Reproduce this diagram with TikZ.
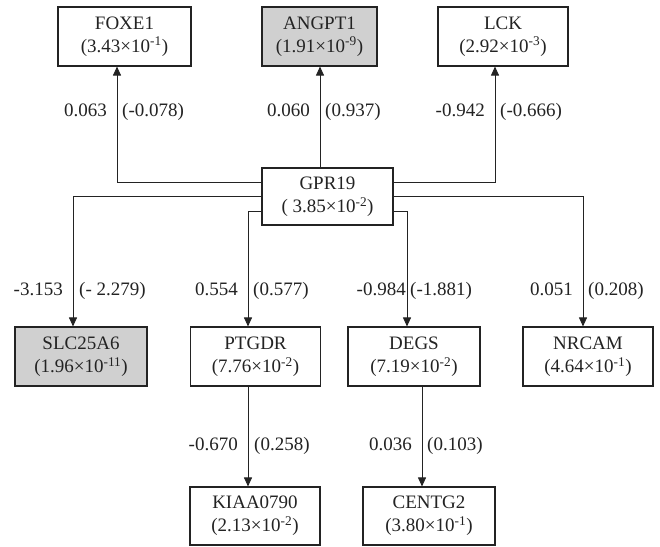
\documentclass[tikz,border=0pt]{standalone}
\usepackage{fontspec}
\setmainfont{Liberation Serif}
\usetikzlibrary{arrows.meta}
\definecolor{boxgray}{RGB}{208,208,208}
\definecolor{ink}{RGB}{35,35,35}
\begin{document}
\begin{tikzpicture}[x=1pt,y=-1pt,
  gene/.style={draw=ink,line width=1.1pt,rectangle,minimum height=59pt,inner sep=0pt,align=center,text=ink,font=\fontsize{19}{23}\selectfont},
  shaded/.style={gene,fill=boxgray},
  conn/.style={draw=ink,line width=0.9pt},
  arr/.style={conn,-{Triangle[length=9pt,width=8pt]}},
  lbl/.style={inner sep=0pt,text=ink,font=\fontsize{19}{23}\selectfont},
  lleft/.style={lbl,anchor=base east},
  lright/.style={lbl,anchor=base west}]
\useasboundingbox (0,0) rectangle (660,546);
\fill[white] (0,0) rectangle (660,546);
% top row
\node[gene,minimum width=133pt] (FOXE1) at (124.5,36.5) {FOXE1\\(3.43×10\textsuperscript{-1})};
\node[shaded,minimum width=115pt] (ANGPT1) at (319.5,36.5) {ANGPT1\\(1.91×10\textsuperscript{-9})};
\node[gene,minimum width=130pt] (LCK) at (503,36.5) {LCK\\(2.92×10\textsuperscript{-3})};
% centre
\node[gene,minimum width=131pt,minimum height=57pt] (GPR19) at (327.5,196.5) {GPR19\\( 3.85×10\textsuperscript{-2})};
% middle row
\node[shaded,minimum width=132pt] (SLC) at (81,356.5) {SLC25A6\\(1.96×10\textsuperscript{-11})};
\node[gene,minimum width=130pt] (PTGDR) at (255.5,356.5) {PTGDR\\(7.76×10\textsuperscript{-2})};
\node[gene,minimum width=132pt] (DEGS) at (414,356.5) {DEGS\\(7.19×10\textsuperscript{-2})};
\node[gene,minimum width=130pt] (NRCAM) at (588,356.5) {NRCAM\\(4.64×10\textsuperscript{-1})};
% bottom row
\node[gene,minimum width=130pt,minimum height=58pt] (KIAA) at (255,516) {KIAA0790\\(2.13×10\textsuperscript{-2})};
\node[gene,minimum width=132pt,minimum height=58pt] (CENTG) at (429,516) {CENTG2\\(3.80×10\textsuperscript{-1})};
% bend coordinates
\coordinate (c1) at (117,182);
\coordinate (c2) at (320,0);
\coordinate (c3) at (495,182);
\coordinate (c4) at (73,196);
\coordinate (c5) at (248,211);
\coordinate (c6) at (407,211);
\coordinate (c7) at (583,196);
\coordinate (c8) at (248,0);
\coordinate (c9) at (422,0);
% connectors
\draw[arr] (GPR19.west |- c1) -- (c1) -- (c1 |- FOXE1.south);
\draw[arr] (GPR19.north -| c2) -- (ANGPT1.south -| c2);
\draw[arr] (GPR19.east |- c3) -- (c3) -- (c3 |- LCK.south);
\draw[arr] (GPR19.west |- c4) -- (c4) -- (c4 |- SLC.north);
\draw[arr] (GPR19.west |- c5) -- (c5) -- (c5 |- PTGDR.north);
\draw[arr] (GPR19.east |- c6) -- (c6) -- (c6 |- DEGS.north);
\draw[arr] (GPR19.east |- c7) -- (c7) -- (c7 |- NRCAM.north);
\draw[arr] (PTGDR.south -| c8) -- (KIAA.north -| c8);
\draw[arr] (DEGS.south -| c9) -- (CENTG.north -| c9);
% labels
\node[lleft] (l1a) at (107,116) {0.063};
\node[lright] (l1b) at (122,116) {(-0.078)};
\node[lleft] (l2a) at (310,116) {0.060};
\node[lright] (l2b) at (325,116) {(0.937)};
\node[lleft] (l3a) at (485,116) {-0.942};
\node[lright] (l3b) at (500,116) {(-0.666)};
\node[lleft] (l4a) at (63,295) {-3.153};
\node[lright] (l4b) at (79,295) {(- 2.279)};
\node[lleft] (l5a) at (238,295) {0.554};
\node[lright] (l5b) at (253,295) {(0.577)};
\node[lleft] (l6a) at (406,295) {-0.984};
\node[lright] (l6b) at (410,295) {(-1.881)};
\node[lleft] (l7a) at (573,295) {0.051};
\node[lright] (l7b) at (588,295) {(0.208)};
\node[lleft] (l8a) at (238,450) {-0.670};
\node[lright] (l8b) at (254,450) {(0.258)};
\node[lleft] (l9a) at (412,450) {0.036};
\node[lright] (l9b) at (427,450) {(0.103)};
\end{tikzpicture}
\end{document}
